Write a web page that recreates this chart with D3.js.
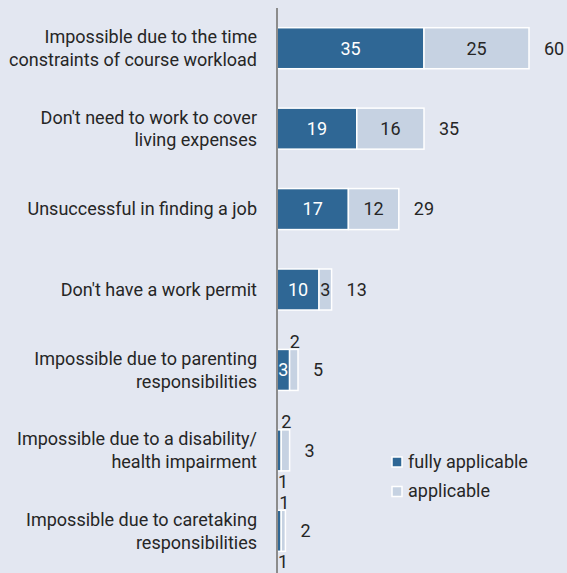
<!DOCTYPE html>
<html>
<head>
<meta charset="utf-8">
<script src="https://cdn.jsdelivr.net/npm/d3@7"></script>
<style>
  html, body { margin: 0; padding: 0; background: #e3e7f1; }
  svg { display: block; }
  text { font-family: Roboto, "Noto Sans", sans-serif; font-size: 18px; fill: #262626; }
</style>
</head>
<body>
<svg id="chart" width="567" height="573"></svg>
<script>
// Reasons for not working alongside studies (share of respondents, %)
const categories = [
  ["Impossible due to the time", "constraints of course workload"],
  ["Don't need to work to cover", "living expenses"],
  ["Unsuccessful in finding a job"],
  ["Don't have a work permit"],
  ["Impossible due to parenting", "responsibilities"],
  ["Impossible due to a disability/", "health impairment"],
  ["Impossible due to caretaking", "responsibilities"]
];
const fullyApplicable = [35, 19, 17, 10, 3, 1, 1];
const applicable      = [25, 16, 12, 3, 2, 2, 1];
const totals          = [60, 35, 29, 13, 5, 3, 2];
const seriesNames = ["fully applicable", "applicable"];
const seriesColors = ["#2f6795", "#c6d2e2"];

const W = 567, H = 573;
const axisX = 277;
const svg = d3.select("#chart");

const x = d3.scaleLinear().domain([0, 60]).range([axisX, 529]);
const y = d3.scaleBand()
  .domain(d3.range(categories.length))
  .range([8, 571])
  .paddingInner(0.49)
  .paddingOuter(0.245);

const rows = categories.map((c, i) => ({
  i, label: c, values: [fullyApplicable[i], applicable[i]], total: totals[i]
}));

// stacked segments
const segs = [];
rows.forEach(r => {
  let acc = 0;
  r.values.forEach((v, s) => {
    segs.push({ i: r.i, s, v, x0: acc, x1: acc + v });
    acc += v;
  });
});

const g = svg.append("g");

g.selectAll("rect.seg")
  .data(segs)
  .join("rect")
  .attr("class", "seg")
  .attr("x", d => x(d.x0))
  .attr("y", d => y(d.i))
  .attr("width", d => x(d.x1) - x(d.x0))
  .attr("height", y.bandwidth())
  .attr("fill", d => seriesColors[d.s])
  .attr("stroke", "#ffffff")
  .attr("stroke-width", 1.5);

// vertical baseline axis
svg.append("line")
  .attr("x1", axisX).attr("x2", axisX)
  .attr("y1", 8).attr("y2", H)
  .attr("stroke", "#8c8c8c")
  .attr("stroke-width", 2);

const base = d => y(d) + y.bandwidth() / 2 + 6.4;

// segment value labels: inside when they fit, otherwise outside
const lbl = g.selectAll("text.val")
  .data(segs)
  .join("text")
  .attr("class", "val")
  .attr("text-anchor", "middle")
  .text(d => d.v);

lbl.each(function(d) {
  const t = d3.select(this);
  const w = this.getComputedTextLength();
  const segW = x(d.x1) - x(d.x0);
  const cx = (x(d.x0) + x(d.x1)) / 2;
  if (w + 2 <= segW) {
    t.attr("x", cx).attr("y", base(d.i))
     .style("fill", d.s === 0 ? "#ffffff" : "#262626");
  } else if (d.s === 1) {
    t.attr("x", cx + 1).attr("y", y(d.i) - 1.5);
  } else {
    t.attr("x", cx + 4).attr("y", y(d.i) + y.bandwidth() + 17);
  }
});

// totals
g.selectAll("text.total")
  .data(rows)
  .join("text")
  .attr("class", "total")
  .attr("x", d => x(d.total) + 15)
  .attr("y", d => base(d.i))
  .text(d => d.total);

// category labels
const cat = g.selectAll("text.cat")
  .data(rows)
  .join("text")
  .attr("class", "cat")
  .attr("text-anchor", "end")
  .attr("x", 257)
  .attr("y", d => base(d.i) - (d.label.length - 1) * 11.4);

cat.selectAll("tspan")
  .data(d => d.label)
  .join("tspan")
  .attr("x", 257)
  .attr("dy", (d, k) => k === 0 ? 0 : 22.8)
  .text(d => d);

// legend
const legend = svg.append("g").attr("transform", "translate(392,457)");
const li = legend.selectAll("g")
  .data(seriesNames)
  .join("g")
  .attr("transform", (d, k) => `translate(0,${k * 29.5})`);
li.append("rect")
  .attr("width", 10).attr("height", 10)
  .attr("fill", (d, k) => seriesColors[k])
  .attr("stroke", "#ffffff")
  .attr("stroke-width", 1.5);
li.append("text")
  .attr("x", 16)
  .attr("y", 10.5)
  .text(d => d);
</script>
</body>
</html>
